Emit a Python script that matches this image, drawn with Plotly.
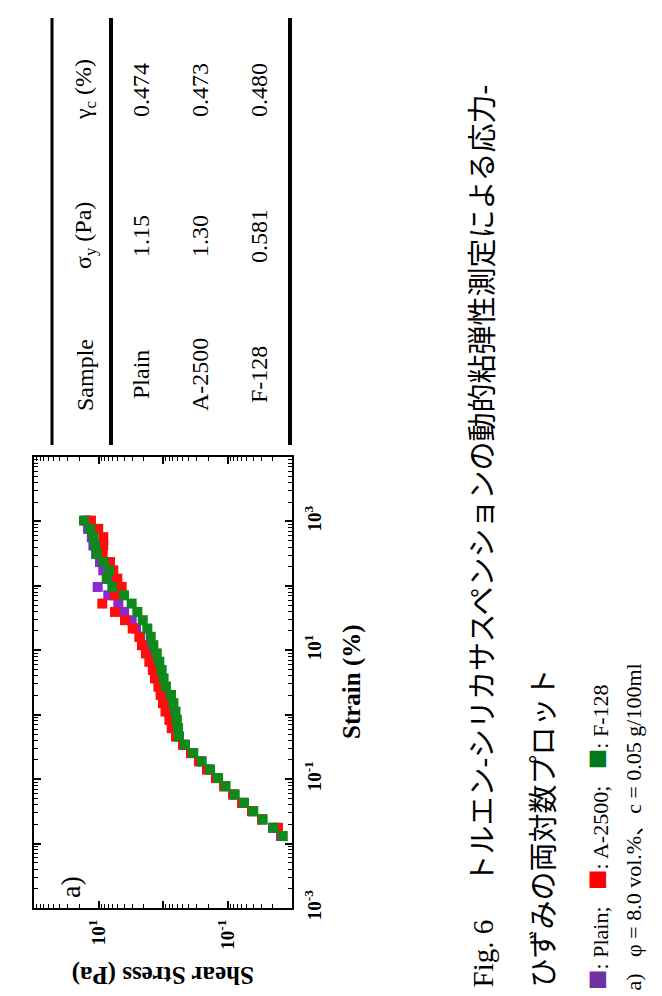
import plotly.graph_objects as go

# ---------------- data ----------------
strain = [1030, 767, 570, 424, 315, 234, 174, 129, 96.2, 71.4, 53.1, 39.4, 29.3,
          21.8, 16.2, 12.0, 8.95, 6.65, 4.94, 3.67, 2.73, 2.03, 1.51, 1.12,
          0.834, 0.619, 0.460, 0.342, 0.254, 0.189, 0.141, 0.104, 0.0776,
          0.0577, 0.0429, 0.0318, 0.0237, 0.0176, 0.0131]

stress_plain = [15.6, 14.5, 12.7, 12.0, 10.9, 9.48, 8.43, 7.13, 10.3, 7.05, 4.93,
                4.02, 3.06, 2.62, 2.27, 1.97, 1.71, 1.53, 1.38, 1.26, 1.11, 1.00,
                0.90, 0.836, 0.75, 0.675, 0.585, 0.472, 0.355, 0.262, 0.194,
                0.146, 0.109, 0.0793, 0.0575, 0.0403, 0.0292, 0.0197, 0.0148]

stress_a2500 = [13.1, 10.1, 8.43, 8.43, 8.61, 6.63, 5.90, 5.11, 4.37, 5.55, 8.73,
                5.55, 3.88, 2.95, 2.33, 2.12, 1.84, 1.63, 1.44, 1.33, 1.18, 1.09,
                1.00, 0.914, 0.798, 0.733, 0.628, 0.490, 0.368, 0.277, 0.208,
                0.151, 0.113, 0.0822, 0.0596, 0.0417, 0.0292, 0.0165, 0.0143]

stress_f128 = [16.8, 13.5, 12.0, 11.3, 10.7, 8.43, 6.80, 7.46, 6.11, 4.02, 3.06,
               2.50, 2.06, 1.75, 1.55, 1.41, 1.25, 1.14, 1.05, 0.98, 0.90, 0.75,
               0.69, 0.64, 0.61, 0.585, 0.565, 0.456, 0.339, 0.251, 0.187, 0.140,
               0.107, 0.0773, 0.0554, 0.0398, 0.0285, 0.0195, 0.0139]

series_names = ["Plain", "A-2500", "F-128"]
series_colors = ["#8c28d2", "#ff0d0d", "#0c8a1c"]
legend_colors = ["#7030a0", "#ff0000", "#007a1a"]

stress_ticks = [100, 10, 1, 0.1, 0.01]
stress_ticktext = ["", "<b>10<sup>1</sup></b>", "", "<b>10<sup>-1</sup></b>", ""]
strain_ticks = [1e-3, 1e-2, 1e-1, 1, 10, 100, 1000, 1e4]
strain_ticktext = ["<b>10<sup>-3</sup></b>", "", "<b>10<sup>-1</sup></b>", "",
                   "<b>10<sup>1</sup></b>", "", "<b>10<sup>3</sup></b>", ""]

table_header = ["Sample", "σ<sub>y</sub> (Pa)", "γ<sub>c</sub> (%)"]
table_samples = ["Plain", "A-2500", "F-128"]
table_sigma = ["1.15", "1.30", "0.581"]
table_gamma = ["0.474", "0.473", "0.480"]

caption_line1 = "Fig. 6\u3000 トルエン-シリカサスペンションの動的粘弾性測定による応力-"
caption_line2 = "ひずみの両対数プロット"
caption_cond = "a)\u00a0\u00a0\u00a0φ = 8.0 vol.%、c = 0.05 g/100ml"

# ---------------- layout geometry (pixels) ----------------
W, H = 662, 996
PL, PR, PT, PB = 34, 292, 457, 908


def px(x):
    return (x - PL) / (PR - PL)


def py(y):
    return (PB - y) / (PB - PT)


SERIF = "Liberation Serif, Times New Roman, serif"
CJK = "Liberation Serif, Noto Sans CJK JP, serif"

fig = go.Figure()
for name, col, ys in zip(series_names, series_colors,
                         [stress_plain, stress_a2500, stress_f128]):
    fig.add_trace(go.Scatter(
        x=ys, y=strain, mode="markers", name=name,
        marker=dict(symbol="square", size=10, color=col, line=dict(width=0)),
        showlegend=False))

minor_stress = [k * 10 ** e for e in range(-2, 2) for k in range(2, 10)]
minor_strain = [k * 10 ** e for e in range(-3, 4) for k in range(2, 10)]

fig.update_xaxes(
    type="log", range=[2, -2], side="bottom",
    showline=True, linewidth=2, linecolor="black", mirror="ticks",
    ticks="inside", ticklen=7, tickwidth=1.5, tickcolor="black",
    tickvals=stress_ticks, ticktext=stress_ticktext, tickangle=-90,
    tickfont=dict(family=SERIF, size=19, color="black"),
    ticklabelstandoff=2,
    minor=dict(tickvals=minor_stress, ticks="inside", ticklen=4, tickwidth=1,
               tickcolor="black", showgrid=False),
    showgrid=False, zeroline=False)

fig.update_yaxes(
    type="log", range=[-3, 4], side="right",
    showline=True, linewidth=2, linecolor="black", mirror="ticks",
    ticks="inside", ticklen=7, tickwidth=1.5, tickcolor="black",
    tickvals=strain_ticks, ticktext=strain_ticktext, tickangle=-90,
    tickfont=dict(family=SERIF, size=19, color="black"),
    ticklabelstandoff=4,
    minor=dict(tickvals=minor_strain, ticks="inside", ticklen=4, tickwidth=1,
               tickcolor="black", showgrid=False),
    showgrid=False, zeroline=False)

ann = []
# axis titles and panel label
ann.append(dict(text="<b>Strain (%)</b>", x=px(352), y=py(682), textangle=-90,
                font=dict(family=SERIF, size=25, color="black")))
ann.append(dict(text="<b>Shear Stress (Pa)</b>", x=px(163), y=py(975), textangle=180,
                font=dict(family=SERIF, size=25, color="black")))
ann.append(dict(text="a)", x=px(70), y=py(887), textangle=-90,
                font=dict(family=SERIF, size=28, color="black")))

# table
row_x = [85, 141, 200, 259]
col_y = [375, 236, 90]
for j, t in enumerate(table_header):
    ann.append(dict(text=t, x=px(row_x[0]), y=py(col_y[j]), textangle=-90,
                    font=dict(family=SERIF, size=24, color="black")))
for i in range(3):
    for j, t in enumerate([table_samples[i], table_sigma[i], table_gamma[i]]):
        ann.append(dict(text=t, x=px(row_x[i + 1]), y=py(col_y[j]), textangle=-90,
                        font=dict(family=SERIF, size=24, color="black")))

# caption
ann.append(dict(text=caption_line1, x=px(482), y=py(990), yanchor="bottom",
                textangle=-90, font=dict(family=CJK, size=29, color="black")))
ann.append(dict(text=caption_line2, x=px(543), y=py(990), yanchor="bottom",
                textangle=-90, font=dict(family=CJK, size=29, color="black")))
sq = "<span style='color:{c};font-size:34px'>■</span>"
legend_text = "\u00a0\u00a0\u00a0".join(
    (sq.format(c=c) + f": {n};") if k < 2 else (sq.format(c=c) + f": {n}")
    for k, (c, n) in enumerate(zip(legend_colors, series_names)))
ann.append(dict(text=legend_text, x=px(596), y=py(992), yanchor="bottom",
                textangle=-90, font=dict(family=CJK, size=22, color="black")))
ann.append(dict(text=caption_cond, x=px(633), y=py(993), yanchor="bottom",
                textangle=-90, font=dict(family=CJK, size=22, color="black")))

for a in ann:
    a.setdefault("xref", "paper")
    a.setdefault("yref", "paper")
    a.setdefault("xanchor", "center")
    a.setdefault("yanchor", "middle")
    a.setdefault("showarrow", False)
fig.update_layout(annotations=ann)

# table rules
shapes = []
for lx, lw in [(52, 3), (111, 4), (290, 4)]:
    shapes.append(dict(type="line", xref="paper", yref="paper",
                       x0=px(lx), x1=px(lx), y0=py(18), y1=py(445),
                       line=dict(color="black", width=lw)))
fig.update_layout(shapes=shapes)

fig.update_layout(
    width=W, height=H, autosize=False,
    margin=dict(l=PL, r=W - PR, t=PT, b=H - PB, pad=0),
    paper_bgcolor="white", plot_bgcolor="white")

fig.write_html("out.html")
